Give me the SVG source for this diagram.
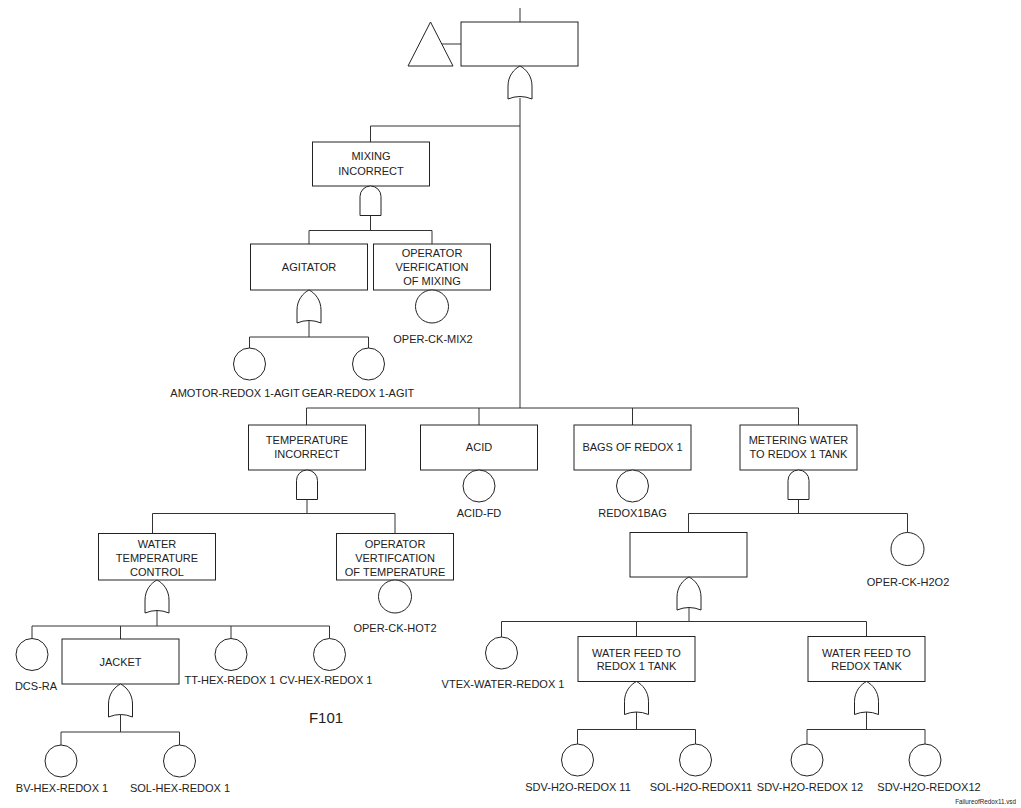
<svg xmlns="http://www.w3.org/2000/svg" xmlns:xlink="http://www.w3.org/1999/xlink" width="1021" height="808" viewBox="0 0 1021 808">
<style>
.bg{fill:#fff}
.box{fill:#fff;stroke:#222;stroke-width:1}
.gate{fill:#fff;stroke:#222;stroke-width:1}
.ev{fill:#fff;stroke:#222;stroke-width:1}
.ln{fill:none;stroke:#333;stroke-width:1}
text{font-family:"Liberation Sans",Arial,sans-serif;font-size:11px;fill:#222;text-anchor:middle}
.big{font-size:15px}
.tiny{font-size:6.3px;text-anchor:end}
</style>
<defs>
<path id="or" d="M-12,33 L-12,20 C-12,10 -6,3 0,0 C6,3 12,10 12,20 L12,33 Q0,28 -12,33 Z"/>
<path id="and" d="M-10.5,29.5 L-10.5,10.5 A10.5,10.5 0 0 1 10.5,10.5 L10.5,29.5 Z"/>
</defs>
<rect class="bg" x="0" y="0" width="1021" height="808"/>

<g id="connectors" class="ln">
<path d="M520,8 V22"/>
<path d="M441.75,44 H461"/>
<path d="M520,98 V408"/>
<path d="M370.5,126 H520"/>
<path d="M370.5,126 V142"/>
<path d="M370.5,215.5 V230.5 M309,230.5 H432 M309,230.5 V244 M432,230.5 V244"/>
<path d="M309,320.5 V337 M249.5,337 H368.5 M249.5,337 V348 M368.5,337 V348"/>
<path d="M306.5,408 H798.5 M306.5,408 V425 M479,408 V425 M632.5,408 V425 M798.5,408 V425"/>
<path d="M307,499.5 V513.5 M152.5,513.5 H395 M152.5,513.5 V533.5 M395,513.5 V533.5"/>
<path d="M798.5,499.5 V513.5 M688.5,513.5 H907.5 M688.5,513.5 V532.5 M907.5,513.5 V532.5"/>
<path d="M157,610.5 V626 M32,626 H329.5 M32,626 V638.5 M120.5,626 V639 M231,626 V638.5 M329.5,626 V638.5"/>
<path d="M120.5,714.5 V732 M61,732 H179.5 M61,732 V745 M179.5,732 V745"/>
<path d="M689,607.5 V621.5 M501.5,621.5 H866.5 M501.5,621.5 V637 M636.5,621.5 V636.5 M866.5,621.5 V636.5"/>
<path d="M636.5,712 V729.5 M577.5,729.5 H695.5 M577.5,729.5 V744 M695.5,729.5 V744"/>
<path d="M866.5,712 V729.5 M807,729.5 H925 M807,729.5 V744 M925,729.5 V744"/>
</g>

<g id="top-event">
<rect class="box" x="461" y="22" width="117" height="44"/>
<use href="#or" xlink:href="#or" class="gate" x="520" y="66"/>
</g>
<g id="transfer">
<polygon class="gate" points="408,66 430.5,22 453,66"/>
</g>

<g id="mixing-incorrect">
<rect class="box" x="312.5" y="142" width="117" height="44"/>
<text x="371" y="160">MIXING</text>
<text x="371" y="175">INCORRECT</text>
<use href="#and" xlink:href="#and" class="gate" x="370.5" y="186"/>
</g>
<g id="agitator">
<rect class="box" x="250.5" y="244" width="117" height="46"/>
<text x="309" y="271">AGITATOR</text>
<use href="#or" xlink:href="#or" class="gate" x="309" y="290"/>
</g>
<g id="operator-verification-mixing">
<rect class="box" x="373.5" y="244" width="117" height="46"/>
<text x="432" y="257">OPERATOR</text>
<text x="432" y="271">VERFICATION</text>
<text x="432" y="285">OF MIXING</text>
</g>
<g id="oper-ck-mix2">
<circle class="ev" cx="432" cy="306.5" r="16.5"/>
<text x="433" y="343">OPER-CK-MIX2</text>
</g>
<g id="amotor">
<circle class="ev" cx="249.5" cy="364" r="16"/>
<text x="235" y="397">AMOTOR-REDOX 1-AGIT</text>
</g>
<g id="gear">
<circle class="ev" cx="368.5" cy="364" r="16"/>
<text x="358" y="397">GEAR-REDOX 1-AGIT</text>
</g>

<g id="temperature-incorrect">
<rect class="box" x="248.5" y="425" width="117" height="45"/>
<text x="307" y="444">TEMPERATURE</text>
<text x="307" y="457.5">INCORRECT</text>
<use href="#and" xlink:href="#and" class="gate" x="307" y="470"/>
</g>
<g id="acid">
<rect class="box" x="420.5" y="425" width="117" height="45"/>
<text x="479" y="451">ACID</text>
</g>
<g id="acid-fd">
<circle class="ev" cx="479" cy="486" r="16"/>
<text x="479" y="517">ACID-FD</text>
</g>
<g id="bags">
<rect class="box" x="574" y="425" width="117" height="45"/>
<text x="632.5" y="451">BAGS OF REDOX 1</text>
</g>
<g id="redox1bag">
<circle class="ev" cx="632.5" cy="486" r="16"/>
<text x="632.5" y="517">REDOX1BAG</text>
</g>
<g id="metering">
<rect class="box" x="740" y="425" width="117" height="45"/>
<text x="798.5" y="444">METERING WATER</text>
<text x="798.5" y="458">TO REDOX 1 TANK</text>
<use href="#and" xlink:href="#and" class="gate" x="798.5" y="470"/>
</g>

<g id="water-temperature-control">
<rect class="box" x="98.5" y="533.5" width="117" height="46.5"/>
<text x="157" y="548">WATER</text>
<text x="157" y="561.5">TEMPERATURE</text>
<text x="157" y="575.5">CONTROL</text>
<use href="#or" xlink:href="#or" class="gate" x="157" y="580"/>
</g>
<g id="operator-verification-temperature">
<rect class="box" x="336.5" y="533.5" width="117" height="46.5"/>
<text x="395" y="548">OPERATOR</text>
<text x="395" y="561.5">VERTIFCATION</text>
<text x="395" y="575.5">OF TEMPERATURE</text>
</g>
<g id="oper-ck-hot2">
<circle class="ev" cx="395" cy="596.5" r="16.5"/>
<text x="395" y="632">OPER-CK-HOT2</text>
</g>
<g id="dcs-ra">
<circle class="ev" cx="32" cy="654.5" r="16"/>
<text x="36" y="690">DCS-RA</text>
</g>
<g id="jacket">
<rect class="box" x="62" y="639" width="117" height="45"/>
<text x="120.5" y="665.5">JACKET</text>
<use href="#or" xlink:href="#or" class="gate" x="120.5" y="684"/>
</g>
<g id="tt-hex">
<circle class="ev" cx="231" cy="654.5" r="16"/>
<text x="230" y="683.5">TT-HEX-REDOX 1</text>
</g>
<g id="cv-hex">
<circle class="ev" cx="329.5" cy="654.5" r="16"/>
<text x="326" y="683.5">CV-HEX-REDOX 1</text>
</g>
<g id="bv-hex">
<circle class="ev" cx="61" cy="761" r="16"/>
<text x="62" y="792">BV-HEX-REDOX 1</text>
</g>
<g id="sol-hex">
<circle class="ev" cx="179.5" cy="761" r="16"/>
<text x="180" y="792">SOL-HEX-REDOX 1</text>
</g>
<g id="page-label">
<text class="big" x="326" y="723">F101</text>
</g>

<g id="water-supply">
<rect class="box" x="630" y="532.5" width="117" height="44.5"/>
<use href="#or" xlink:href="#or" class="gate" x="689" y="577"/>
</g>
<g id="oper-ck-h2o2">
<circle class="ev" cx="907.5" cy="549" r="16.5"/>
<text x="908" y="586">OPER-CK-H2O2</text>
</g>
<g id="vtex">
<circle class="ev" cx="501.5" cy="653" r="16"/>
<text x="503" y="688">VTEX-WATER-REDOX 1</text>
</g>
<g id="water-feed-1">
<rect class="box" x="578" y="636.5" width="117" height="45"/>
<text x="636.5" y="656.5">WATER FEED TO</text>
<text x="636.5" y="670">REDOX 1 TANK</text>
<use href="#or" xlink:href="#or" class="gate" x="636.5" y="681.5"/>
</g>
<g id="water-feed-2">
<rect class="box" x="808" y="636.5" width="117" height="45"/>
<text x="866.5" y="656.5">WATER FEED TO</text>
<text x="866.5" y="670">REDOX TANK</text>
<use href="#or" xlink:href="#or" class="gate" x="866.5" y="681.5"/>
</g>
<g id="sdv-11">
<circle class="ev" cx="577.5" cy="760" r="16"/>
<text x="578" y="791">SDV-H2O-REDOX 11</text>
</g>
<g id="sol-11">
<circle class="ev" cx="695.5" cy="760" r="16"/>
<text x="701" y="791">SOL-H2O-REDOX11</text>
</g>
<g id="sdv-12">
<circle class="ev" cx="807" cy="760" r="16"/>
<text x="810" y="791">SDV-H2O-REDOX 12</text>
</g>
<g id="sdv-12b">
<circle class="ev" cx="925" cy="760" r="16"/>
<text x="929" y="791">SDV-H2O-REDOX12</text>
</g>
<g id="file-name">
<text class="tiny" x="1016" y="804">FailureofRedox11.vsd</text>
</g>
</svg>
